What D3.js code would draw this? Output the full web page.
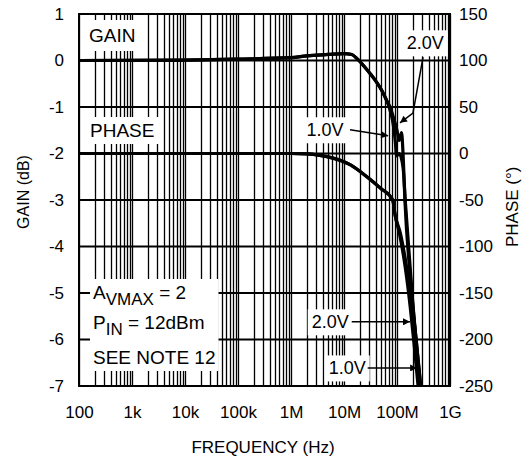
<!DOCTYPE html>
<html lang="en">
<head>
<meta charset="UTF-8">
<script src="https://cdn.jsdelivr.net/npm/d3@7"></script>
<title>Gain and Phase vs Frequency</title>
<style>
body{margin:0;background:#fff}
svg{display:block}
text{font-family:'Liberation Sans',Arial,sans-serif;fill:#000}
</style>
</head>
<body>
<svg id="chart" width="523" height="463"></svg>
<script>
// axis ticks
let freqTicks = [1e2, 1e3, 1e4, 1e5, 1e6, 1e7, 1e8, 1e9]
let freqLabels = ['100', '1k', '10k', '100k', '1M', '10M', '100M', '1G']
let gainTicks = [1, 0, -1, -2, -3, -4, -5, -6, -7]
let phaseTicks = [150, 100, 50, 0, -50, -100, -150, -200, -250]

// gain, 2.0V
let gain2Freq = [1e2, 1e4, 1e5, 1e6, 2e6, 5e6, 1e7, 1.4e7, 1.8e7, 2.5e7, 3.1e7, 4.2e7, 5.2e7, 6.5e7, 7.4e7, 8.7e7, 1.0e8, 1.1e8, 1.22e8, 1.3e8, 1.41e8, 1.9e8, 2.7e8]
let gain2Db = [0, 0.01, 0.03, 0.06, 0.1, 0.13, 0.15, 0.13, 0.03, -0.15, -0.28, -0.48, -0.65, -0.88, -1.0, -1.25, -1.5, -1.72, -1.55, -2.0, -3.0, -5.0, -7.0]
// gain, 1.0V
let gain1Freq = [1e2, 1e4, 1e5, 1e6, 2e6, 5e6, 1e7, 1.4e7, 1.8e7, 2.5e7, 3.1e7, 4.2e7, 5.2e7, 6.5e7, 7.4e7, 8.7e7, 9.3e7, 9.8e7, 1.1e8, 1.3e8, 1.45e8, 1.95e8, 2.8e8]
let gain1Db = [0, 0.01, 0.03, 0.06, 0.1, 0.13, 0.15, 0.13, 0.03, -0.15, -0.28, -0.48, -0.65, -0.88, -1.07, -1.45, -1.75, -2.05, -2.0, -2.3, -3.1, -5.1, -7.0]
// phase, 2.0V
let phase2Freq = [1e2, 1e6, 2e6, 3.5e6, 6.2e6, 1.3e7, 2.7e7, 4.8e7, 8.3e7, 9.2e7, 1.13e8, 1.41e8, 1.8e8, 2.1e8, 2.5e8]
let phase2Deg = [0, 0, -0.5, -2, -5, -12, -25, -37, -50, -66, -88, -120, -168, -205, -250]
// phase, 1.0V
let phase1Freq = [1e2, 1e6, 2e6, 3.5e6, 6.2e6, 1.3e7, 2.7e7, 4.8e7, 8.3e7, 9.2e7, 1.15e8, 1.45e8, 1.9e8, 2.3e8, 2.8e8]
let phase1Deg = [0, 0, -0.5, -2, -5, -12, -25, -37, -50, -66, -85, -115, -160, -200, -250]

let plotL = 79, plotR = 450, plotT = 14, plotB = 386

let svg = d3.select('#chart')

let xScale = d3.scaleLog().domain([1e2, 1e9]).range([plotL, plotR])
let gScale = d3.scaleLinear().domain([-7, 1]).range([plotB, plotT])
let pScale = d3.scaleLinear().domain([-250, 150]).range([plotB, plotT])

let gridLayer = svg.append('g')
let boxLayer = svg.append('g')
let curveLayer = svg.append('g')
let textLayer = svg.append('g')

// arrow head
svg.append('defs').append('marker')
    .attr('id', 'head')
    .attr('viewBox', '0 0 10 10')
    .attr('refX', 10).attr('refY', 5)
    .attr('markerWidth', 9).attr('markerHeight', 7)
    .attr('markerUnits', 'userSpaceOnUse')
    .attr('orient', 'auto')
    .append('path').attr('d', 'M0,0 L10,5 L0,10 Z').attr('fill', '#000')

// vertical log grid
let minor = []
for (let d = 2; d < 9; d++) {
    for (let m = 1; m <= 9; m++) {
        minor.push(m * Math.pow(10, d))
    }
}
minor.push(1e9)
let snap = v => Math.round(v) + 0.5
gridLayer.selectAll('line.v')
    .data(minor)
    .enter()
    .append('line')
    .attr('x1', d => snap(xScale(d))).attr('x2', d => snap(xScale(d)))
    .attr('y1', plotT).attr('y2', plotB)
    .attr('stroke', '#000')
    .attr('stroke-width', 1.3)

gridLayer.selectAll('line.h')
    .data(gainTicks)
    .enter()
    .append('line')
    .attr('x1', plotL).attr('x2', plotR)
    .attr('y1', d => gScale(d)).attr('y2', d => gScale(d))
    .attr('stroke', '#000')
    .attr('stroke-width', 1.8)

// axes (labels only, grid does the ticks)
let xAxis = d3.axisBottom(xScale).tickValues(freqTicks)
    .tickFormat((d, i) => freqLabels[i]).tickSize(0).tickPadding(20)
let yLeft = d3.axisLeft(gScale).tickValues(gainTicks).tickSize(0).tickPadding(15)
let yRight = d3.axisRight(pScale).tickValues(phaseTicks).tickSize(0).tickPadding(9)

let axes = [
    svg.append('g').attr('transform', 'translate(0,' + plotB + ')').call(xAxis),
    svg.append('g').attr('transform', 'translate(' + plotL + ',0)').call(yLeft),
    svg.append('g').attr('transform', 'translate(' + plotR + ',0)').call(yRight)
]
axes.forEach(a => {
    a.select('.domain').remove()
    a.selectAll('text')
        .attr('font-size', 17)
        .attr('font-family', "'Liberation Sans', Arial, sans-serif")
        .text(function () { return d3.select(this).text().replace('−', '-') })
})

// frame
svg.append('rect')
    .attr('x', plotL).attr('y', plotT)
    .attr('width', plotR - plotL).attr('height', plotB - plotT)
    .attr('fill', 'none').attr('stroke', '#000').attr('stroke-width', 2)

// axis titles
svg.append('text')
    .attr('transform', 'translate(29,192) rotate(-90)')
    .attr('text-anchor', 'middle')
    .attr('font-size', 16)
    .text('GAIN (dB)')
svg.append('text')
    .attr('transform', 'translate(518,247) rotate(-90)')
    .attr('font-size', 17)
    .text('PHASE (°)')
svg.append('text')
    .attr('x', 263).attr('y', 453)
    .attr('text-anchor', 'middle')
    .attr('font-size', 17)
    .text('FREQUENCY (Hz)')

// curves
let curves = [
    { f: phase1Freq, v: phase1Deg, s: pScale },
    { f: phase2Freq, v: phase2Deg, s: pScale },
    { f: gain1Freq, v: gain1Db, s: gScale },
    { f: gain2Freq, v: gain2Db, s: gScale }
]
curves.forEach(c => {
    let line = d3.line()
        .x((d, i) => xScale(c.f[i]))
        .y(d => c.s(d))
        .curve(d3.curveMonotoneX)
    curveLayer.append('path')
        .attr('d', line(c.v))
        .attr('fill', 'none')
        .attr('stroke', '#000')
        .attr('stroke-width', 3.2)
        .attr('stroke-linejoin', 'round')
})

// label with white box behind
let boxed = (sel, padX, padY) => {
    let b = sel.node().getBBox()
    boxLayer.append('rect')
        .attr('x', Math.max(plotL + 1, b.x - padX))
        .attr('y', Math.max(plotT + 1, b.y - padY))
        .attr('width', b.width + 2 * padX)
        .attr('height', b.height + 2 * padY)
        .attr('fill', '#fff')
}

boxed(textLayer.append('text').attr('x', 89).attr('y', 42).attr('font-size', 19).text('GAIN'), 8, 5)
boxed(textLayer.append('text').attr('x', 90).attr('y', 137).attr('font-size', 19).text('PHASE'), 8, 3)

let note = textLayer.append('g')
let t1 = note.append('text').attr('x', 93).attr('y', 299).attr('font-size', 19)
t1.append('tspan').text('A')
t1.append('tspan').attr('font-size', 17).attr('dy', 6).text('VMAX')
t1.append('tspan').attr('dy', -6).text(' = 2')
let t2 = note.append('text').attr('x', 93).attr('y', 329).attr('font-size', 19)
t2.append('tspan').text('P')
t2.append('tspan').attr('font-size', 17).attr('dy', 6).text('IN')
t2.append('tspan').attr('dy', -6).text(' = 12dBm')
note.append('text').attr('x', 93).attr('y', 364).attr('font-size', 19).text('SEE NOTE 12')
boxed(note, 3, 3)

// curve callouts
let callouts = [
    { text: '2.0V', at: [3.4e8, 0.38], s: gScale, arrow: [[3.1e8, 0.075], [2.0e8, -1.13], [1.14e8, -1.34]] },
    { text: '1.0V', at: [4.4e6, -1.49], s: gScale, arrow: [[1.3e7, -1.49], [6.8e7, -1.62]] },
    { text: '2.0V', at: [5.5e6, -181], s: pScale, arrow: [[1.4e7, -181], [1.76e8, -181]] },
    { text: '1.0V', at: [1.15e7, -230.6], s: pScale, arrow: [[2.8e7, -230.6], [2.4e8, -230.6]] }
]
callouts.forEach(c => {
    let t = textLayer.append('text')
        .attr('x', xScale(c.at[0])).attr('y', c.s(c.at[1]))
        .attr('dy', '0.36em')
        .attr('text-anchor', 'middle')
        .attr('font-size', 18)
        .text(c.text)
    boxed(t, 4, 3)
    let line = d3.line().x(d => xScale(d[0])).y(d => c.s(d[1]))
    textLayer.append('path')
        .attr('d', line(c.arrow))
        .attr('fill', 'none')
        .attr('stroke', '#000')
        .attr('stroke-width', 1.5)
        .attr('marker-end', 'url(#head)')
})
</script>
</body>
</html>
